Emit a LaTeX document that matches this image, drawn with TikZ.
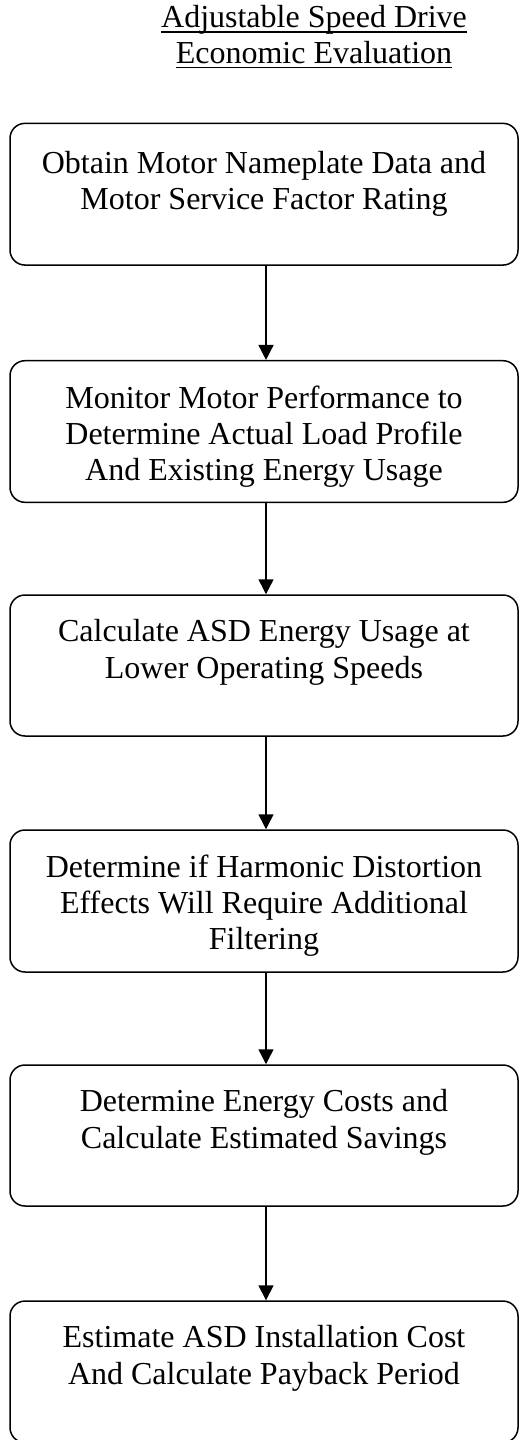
\documentclass[tikz,border=0pt]{standalone}
\usepackage{fontspec}
\setmainfont{Liberation Serif}
\usetikzlibrary{arrows.meta}
\tikzset{
  stepbox/.style={draw, line width=1.5pt, rounded corners=15pt, minimum width=508pt, inner sep=0pt},
  steptext/.style={anchor=north, align=center, inner sep=0pt, font=\fontsize{32}{36.3}\selectfont},
  titletext/.style={anchor=base, inner sep=0pt, font=\fontsize{32}{36}\selectfont},
  flow/.style={line width=1.5pt, -{Triangle[length=15pt, width=15pt]}},
  uline/.style={line width=1.3pt}
}
\begin{document}
\begin{tikzpicture}[x=1pt, y=-1pt]
\useasboundingbox (0,0) rectangle (519,1440);
% title
\node[titletext] (t1) at (314,27.5) {Adjustable Speed Drive};
\node[titletext] (t2) at (314,63) {Economic Evaluation};
\draw[uline] ([yshift=-4.5pt]t1.base west) -- ([yshift=-4.5pt]t1.base east);
\draw[uline] ([yshift=-4.5pt]t2.base west) -- ([yshift=-4.5pt]t2.base east);
% boxes
\node[stepbox, minimum height=141.7pt] (b1) at (264,194.2) {};
\node[stepbox, minimum height=141.6pt] (b2) at (264,431.5) {};
\node[stepbox, minimum height=141pt] (b3) at (264,665.5) {};
\node[stepbox, minimum height=142pt] (b4) at (264,901) {};
\node[stepbox, minimum height=141pt] (b5) at (264,1135.5) {};
\node[stepbox, minimum height=141.5pt] (b6) at (264,1371.8) {};
% texts
\node[steptext] (x1) at (264,151) {Obtain Motor Nameplate Data and\\Motor Service Factor Rating};
\node[steptext] (x2) at (264,385.5) {Monitor Motor Performance to\\Determine Actual Load Profile\\And Existing Energy Usage};
\node[steptext] (x3) at (264,619.5) {Calculate ASD Energy Usage at\\Lower Operating Speeds};
\node[steptext] (x4) at (264,854.5) {Determine if Harmonic Distortion\\Effects Will Require Additional\\Filtering};
\node[steptext] (x5) at (264,1089.5) {Determine Energy Costs and\\Calculate Estimated Savings};
\node[steptext] (x6) at (264,1325.5) {Estimate ASD Installation Cost\\And Calculate Payback Period};
% arrows
\draw[flow] ([xshift=2pt]b1.south) -- ([xshift=2pt]b2.north);
\draw[flow] ([xshift=2pt]b2.south) -- ([xshift=2pt]b3.north);
\draw[flow] ([xshift=2pt]b3.south) -- ([xshift=2pt]b4.north);
\draw[flow] ([xshift=2pt]b4.south) -- ([xshift=2pt]b5.north);
\draw[flow] ([xshift=2pt]b5.south) -- ([xshift=2pt]b6.north);
\end{tikzpicture}
\end{document}
